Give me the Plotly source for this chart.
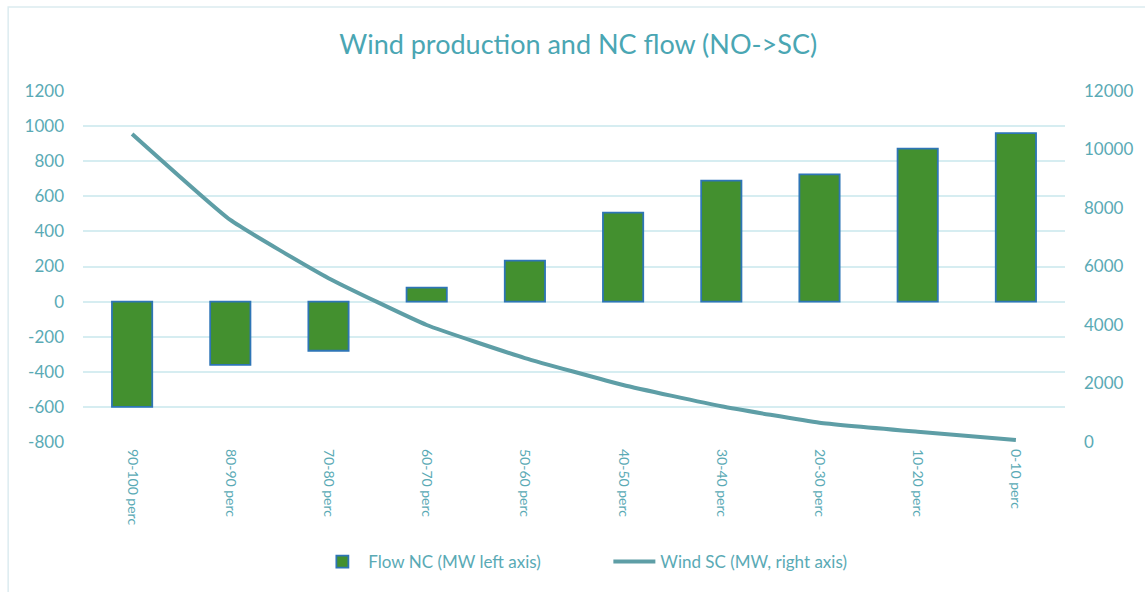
import plotly.graph_objects as go

categories = ["90-100 perc", "80-90 perc", "70-80 perc", "60-70 perc", "50-60 perc",
              "40-50 perc", "30-40 perc", "20-30 perc", "10-20 perc", "0-10 perc"]
flow_nc = [-600, -360, -280, 80, 234, 507, 689, 725, 872, 960]
wind_sc = [10530, 7590, 5600, 4000, 2870, 1950, 1220, 660, 350, 70]
left_ticks = [-800, -600, -400, -200, 0, 200, 400, 600, 800, 1000, 1200]
right_ticks = [0, 2000, 4000, 6000, 8000, 10000, 12000]

TXT = "#5aaab5"
GRID = "#d6edf1"
FONT = "Lato, 'Open Sans', sans-serif"

fig = go.Figure()
fig.add_trace(go.Bar(
    x=categories, y=flow_nc, name="Flow NC (MW left axis)",
    marker=dict(color="#43902f", line=dict(color="#2e75b6", width=1.8)),
    yaxis="y",
))
fig.add_trace(go.Scatter(
    x=categories, y=wind_sc, name="Wind SC (MW, right axis)",
    mode="lines", line=dict(color="#5e9ea6", width=4, shape="spline", smoothing=0.4),
    yaxis="y2",
))

W, H = 1145, 592
fig.update_layout(
    width=W, height=H,
    margin=dict(l=83, r=78, t=91, b=150),
    paper_bgcolor="white", plot_bgcolor="white",
    font=dict(family=FONT, color=TXT, size=14),
    title=dict(text="Wind production and NC flow (NO->SC)", x=0.505, xanchor="center",
               y=1 - 45 / H, yanchor="middle",
               font=dict(size=27, color="#4aa6b3", family=FONT)),
    bargap=0.59,
    showlegend=True,
    legend=dict(orientation="h", x=0.535, xanchor="center", y=-0.342, yanchor="middle",
                font=dict(size=17, color=TXT), itemwidth=42, tracegroupgap=0,
                entrywidth=235, entrywidthmode="pixels"),
    xaxis=dict(type="category", tickangle=90, tickfont=dict(size=14, color=TXT),
               showgrid=False, showline=False, ticks="", ticklabelstandoff=6),
    yaxis=dict(range=[-800, 1200], tickvals=left_ticks, ticktext=[str(v) for v in left_ticks],
               showgrid=True, gridcolor=GRID,
               gridwidth=1.5, zeroline=False, tickfont=dict(size=17, color=TXT),
               ticks="", ticklabelstandoff=18),
    yaxis2=dict(range=[0, 12000], tickvals=right_ticks, ticktext=[str(v) for v in right_ticks],
                overlaying="y", side="right",
                showgrid=False, zeroline=False, tickfont=dict(size=17, color=TXT),
                ticks="", ticklabelstandoff=18),
    shapes=[dict(type="rect", xref="paper", yref="paper",
                 x0=(8 - 83) / (W - 83 - 78), x1=(W + 20 - 83) / (W - 83 - 78),
                 y0=(442 - (H + 20)) / 351, y1=(442 - 7) / 351,
                 line=dict(color="#dcecf0", width=1.5), layer="below")],
)

fig.write_html("out.html")
